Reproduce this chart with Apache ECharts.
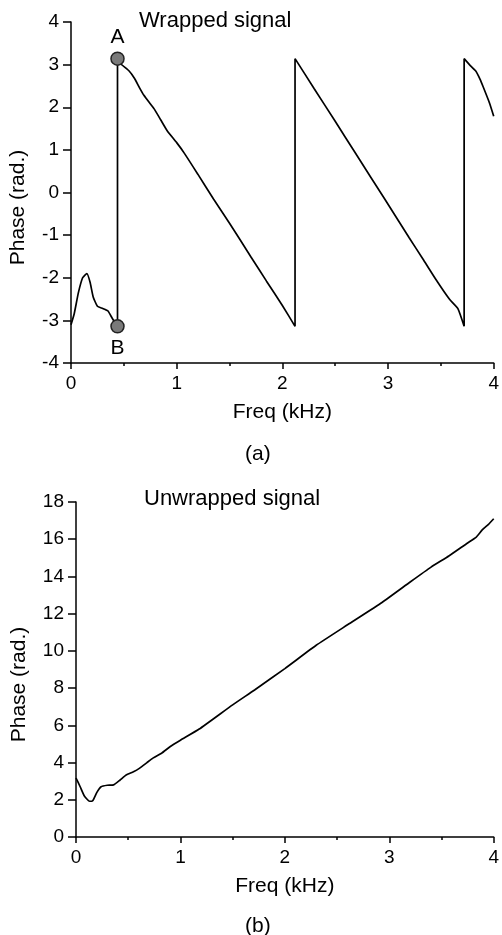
<!DOCTYPE html>
<html>
<head>
<meta charset="utf-8">
<script src="https://cdn.jsdelivr.net/npm/echarts@6/dist/echarts.min.js"></script>
<style>
html,body{margin:0;padding:0;background:#fff;}
#c{width:502px;height:935px;}
</style>
</head>
<body>
<div id="c"></div>
<script>
// Wrapped phase (freq kHz, phase rad)
const wrappedFreq = [0,0.03,0.07,0.11,0.15,0.18,0.21,0.25,0.30,0.35,0.39,0.44,
  0.44,0.47,0.55,0.60,0.65,0.69,0.75,0.79,0.85,0.91,1.00,1.07,1.20,1.35,1.50,1.70,1.85,2.00,2.12,
  2.12,2.30,2.50,2.70,2.97,3.20,3.33,3.45,3.58,3.66,3.72,
  3.72,3.77,3.83,3.87,3.90,3.96,4.00];
const wrappedPhase = [-3.10,-2.85,-2.35,-2.00,-1.90,-2.10,-2.45,-2.67,-2.72,-2.78,-2.95,-3.14,
  3.14,3.02,2.85,2.68,2.45,2.28,2.08,1.95,1.70,1.45,1.17,0.93,0.43,-0.16,-0.72,-1.50,-2.08,-2.65,-3.14,
  3.14,2.44,1.67,0.89,-0.16,-1.06,-1.56,-2.03,-2.50,-2.72,-3.14,
  3.14,3.00,2.85,2.66,2.48,2.10,1.79];
// Unwrapped phase
const unwrappedFreq = [0,0.04,0.08,0.13,0.16,0.20,0.24,0.30,0.36,0.42,0.48,0.55,0.61,0.68,0.74,0.82,0.90,1.00,1.18,1.50,1.71,2.00,2.30,2.60,2.93,3.20,3.40,3.57,3.75,3.83,3.89,3.95,4.00];
const unwrappedPhase = [3.17,2.70,2.20,1.92,1.95,2.40,2.70,2.78,2.80,3.05,3.33,3.50,3.70,4.00,4.25,4.50,4.85,5.20,5.80,7.10,7.90,9.05,10.30,11.40,12.60,13.70,14.50,15.10,15.80,16.10,16.50,16.80,17.10];
// Marked points A and B
const markNames = ['A','B'];
const markFreq = [0.44,0.44];
const markPhase = [3.14,-3.14];
// Axis ranges
const xTicks = {min:0,max:4,interval:1};
const yTopTicks = {min:-4,max:4,interval:1};
const yBotTicks = {min:0,max:18,interval:2};

const FONT = 'Liberation Sans, Arial, sans-serif';
const zip = (a,b)=>a.map((v,i)=>[v,b[i]]);

function xAxisCfg(gridIndex){
  return {
    type:'value', gridIndex, min:xTicks.min, max:xTicks.max, interval:xTicks.interval,
    name:'Freq (kHz)', nameLocation:'middle', nameGap:39,
    nameTextStyle:{fontSize:21,color:'#000',fontFamily:FONT},
    axisLine:{onZero:false,lineStyle:{color:'#000',width:1.5}},
    axisTick:{show:true,length:6,lineStyle:{color:'#000',width:1.5}},
    minorTick:{show:true,splitNumber:2,length:3,lineStyle:{color:'#000',width:1.5}},
    splitLine:{show:false},
    axisLabel:{fontSize:19,color:'#000',fontFamily:FONT,margin:11}
  };
}
function yAxisCfg(gridIndex, t, gap){
  return {
    type:'value', gridIndex, min:t.min, max:t.max, interval:t.interval,
    name:'Phase (rad.)', nameLocation:'middle', nameGap:gap,
    nameTextStyle:{fontSize:21,color:'#000',fontFamily:FONT,padding:[0,30,0,0]},
    axisLine:{show:true,onZero:false,lineStyle:{color:'#000',width:1.5}},
    axisTick:{show:true,length:8,lineStyle:{color:'#000',width:1.5}},
    splitLine:{show:false},
    axisLabel:{fontSize:19,color:'#000',fontFamily:FONT,margin:12}
  };
}

const chart = echarts.init(document.getElementById('c'),null,{renderer:'canvas'});
chart.setOption({
  animation:false,
  backgroundColor:'#fff',
  title:[
    {text:'Wrapped signal',left:134,top:5,textStyle:{fontSize:22,fontWeight:'normal',color:'#000',fontFamily:FONT}},
    {text:'Unwrapped signal',left:139,top:483,textStyle:{fontSize:22,fontWeight:'normal',color:'#000',fontFamily:FONT}},
    {text:'(a)',left:240,top:439,textStyle:{fontSize:21,fontWeight:'normal',color:'#000',fontFamily:FONT}},
    {text:'(b)',left:240,top:911,textStyle:{fontSize:21,fontWeight:'normal',color:'#000',fontFamily:FONT}}
  ],
  grid:[
    {left:70,top:22,width:424,height:341},
    {left:76,top:502,width:419,height:335}
  ],
  xAxis:[xAxisCfg(0),xAxisCfg(1)],
  yAxis:[yAxisCfg(0,yTopTicks,42),yAxisCfg(1,yBotTicks,46)],
  series:[
    {type:'line',xAxisIndex:0,yAxisIndex:0,data:zip(wrappedFreq,wrappedPhase),
     showSymbol:false,smooth:0.15,lineStyle:{color:'#000',width:1.7},z:2},
    {type:'line',xAxisIndex:1,yAxisIndex:1,data:zip(unwrappedFreq,unwrappedPhase),
     showSymbol:false,smooth:0.15,lineStyle:{color:'#000',width:1.7},z:2},
    {type:'scatter',xAxisIndex:0,yAxisIndex:0,z:5,symbolSize:13,
     itemStyle:{color:'#7a7a7a',borderColor:'#222',borderWidth:1.5,opacity:1},
     data:markNames.map((n,i)=>({name:n,value:[markFreq[i],markPhase[i]],
       label:{show:true,position:i===0?'top':'bottom',distance:4,formatter:'{b}',fontSize:21,color:'#000',fontFamily:FONT}}))}
  ]
});
</script>
</body>
</html>
